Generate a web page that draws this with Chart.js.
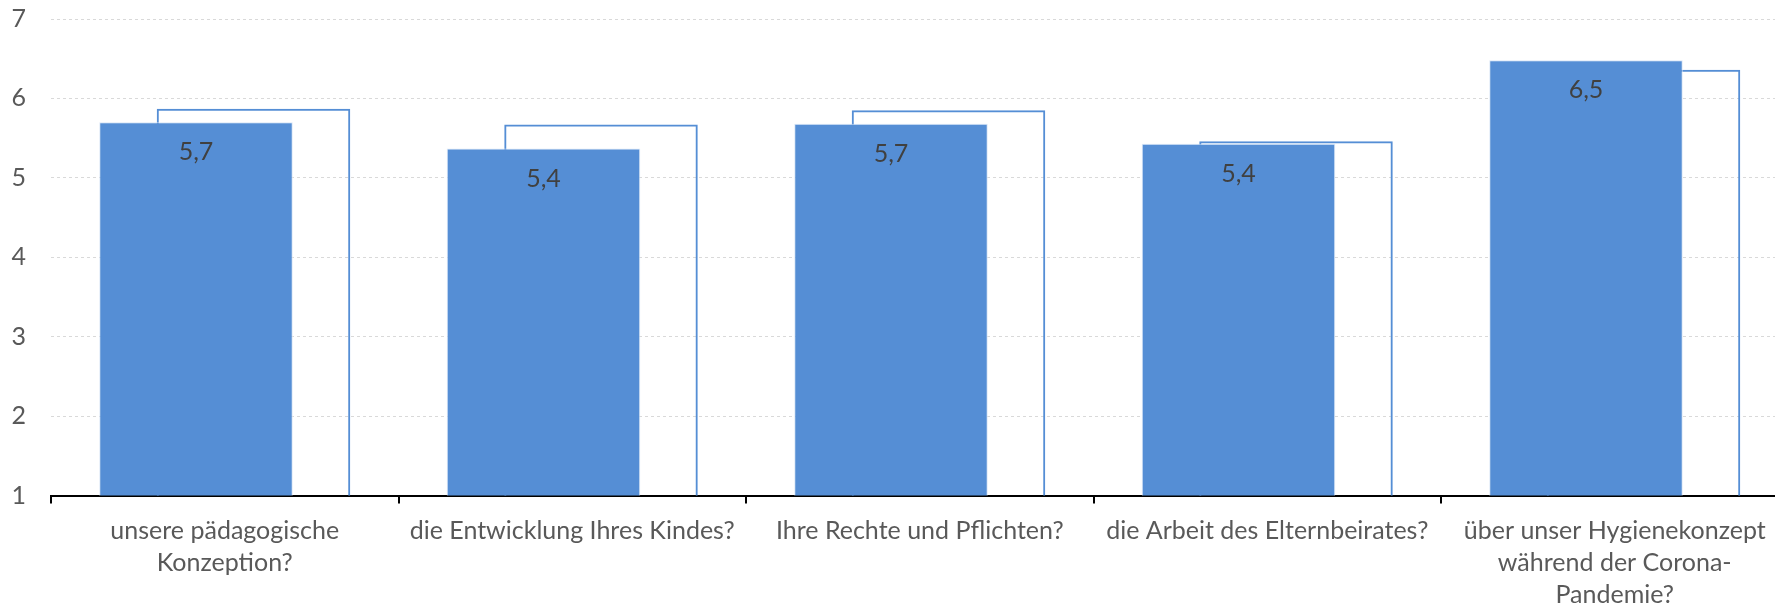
<!DOCTYPE html>
<html>
<head>
<meta charset="utf-8">
<script src="https://cdn.jsdelivr.net/npm/chart.js@4/dist/chart.umd.min.js"></script>
<style>
    html, body { margin: 0; padding: 0; background: #fff; overflow: hidden; }
    #wrap { position: relative; width: 1790px; height: 628px; margin-top: -21px; }
</style>
</head>
<body>
<div id="wrap"><canvas id="chart"></canvas></div>
<script>
// Werte
const categories = [
    ['unsere pädagogische', 'Konzeption?'],
    'die Entwicklung Ihres Kindes?',
    'Ihre Rechte und Pflichten?',
    'die Arbeit des Elternbeirates?',
    ['über unser Hygienekonzept', 'während der Corona-', 'Pandemie?']
];
const currentValues = [5.70, 5.37, 5.68, 5.43, 6.48];
const previousValues = [5.87, 5.67, 5.85, 5.46, 6.36];
const yTicks = [1, 2, 3, 4, 5, 6, 7];

const blue = '#558ed5';
const textColor = '#595959';

// Werte-Beschriftung in den gefüllten Balken
const valueLabels = {
    id: 'valueLabels',
    afterDatasetsDraw(chart) {
        const meta = chart.getDatasetMeta(0);
        const ctx = chart.ctx;
        ctx.save();
        ctx.font = '25px Lato';
        ctx.fillStyle = '#404040';
        ctx.textAlign = 'center';
        ctx.textBaseline = 'middle';
        meta.data.forEach((bar, i) => {
            const txt = currentValues[i].toFixed(1).replace('.', ',');
            ctx.fillText(txt, bar.x, bar.y + 30);
        });
        ctx.restore();
    }
};

new Chart(document.getElementById('chart'), {
    type: 'bar',
    data: {
        labels: categories,
        datasets: [
            {
                label: 'aktuell',
                data: currentValues,
                backgroundColor: blue,
                borderColor: 'rgba(215,228,246,0.9)',
                borderWidth: 1,
                borderSkipped: 'bottom'
            },
            {
                label: 'vorher',
                data: previousValues,
                backgroundColor: 'rgba(0,0,0,0)',
                borderColor: blue,
                borderWidth: 2,
                borderSkipped: 'bottom'
            }
        ]
    },
    options: {
        responsive: true,
        maintainAspectRatio: false,
        animation: false,
        categoryPercentage: 0.331,
        barPercentage: 3.365,
        layout: { padding: { top: 1, right: 1.5, left: 0, bottom: 0 } },
        plugins: {
            legend: { display: false },
            tooltip: { enabled: false }
        },
        scales: {
            x: {
                grid: {
                    offset: true,
                    drawOnChartArea: false,
                    drawTicks: true,
                    tickLength: 8,
                    color: '#000',
                    lineWidth: 2
                },
                border: { display: true, color: '#000', width: 2 },
                ticks: {
                    color: textColor,
                    font: { family: 'Lato', size: 25, lineHeight: 1.27 },
                    padding: 12,
                    maxRotation: 0,
                    autoSkip: false
                },
                afterFit(scale) { scale.height = 111.5; }
            },
            y: {
                min: 1,
                max: 7,
                afterBuildTicks(scale) {
                    scale.ticks = yTicks.map(v => ({ value: v }));
                },
                grid: {
                    color: '#d9d9d9',
                    lineWidth: 1,
                    drawTicks: false
                },
                border: { display: false, dash: [3, 3] },
                ticks: {
                    color: textColor,
                    font: { family: 'Lato', size: 25 },
                    padding: 25
                },
                afterFit(scale) { scale.width = 51; }
            }
        }
    },
    plugins: [valueLabels]
});
</script>
</body>
</html>
